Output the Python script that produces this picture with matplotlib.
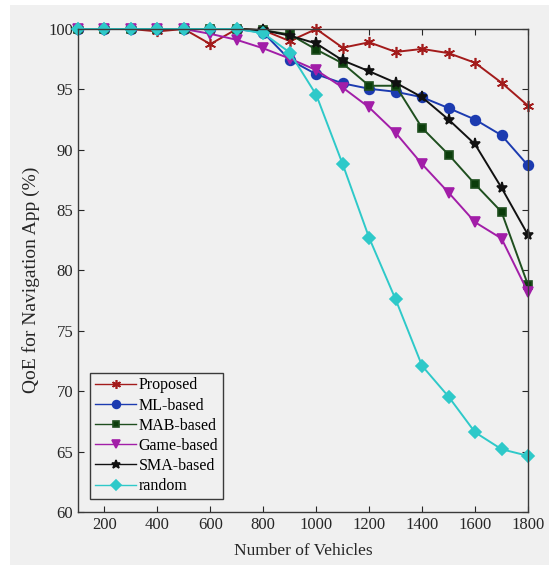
import matplotlib
matplotlib.use("Agg")
import matplotlib.pyplot as plt
from matplotlib.patches import Rectangle

plt.rcParams['font.family'] = ['Liberation Serif', 'DejaVu Serif']

vehicles = [100, 200, 300, 400, 500, 600, 700, 800, 900, 1000,
            1100, 1200, 1300, 1400, 1500, 1600, 1700, 1800]

proposed = [100, 100, 100, 99.8, 100, 98.75, 100, 99.9, 99.0, 100,
            98.45, 98.9, 98.1, 98.35, 98.0, 97.2, 95.55, 93.65]
ml_based = [100, 100, 100, 100, 100, 100, 100, 99.7, 97.45, 96.25,
            95.5, 95.05, 94.8, 94.35, 93.45, 92.5, 91.2, 88.7]
mab_based = [100, 100, 100, 100, 100, 100, 100, 99.9, 99.55, 98.3,
             97.15, 95.3, 95.3, 91.8, 89.6, 87.15, 84.85, 78.8]
game_based = [100, 100, 100, 100, 100, 99.6, 99.1, 98.4, 97.55, 96.6,
              95.15, 93.5, 91.4, 88.8, 86.45, 84.0, 82.65, 78.2]
sma_based = [100, 100, 100, 100, 100, 100, 100, 99.9, 99.45, 98.8,
             97.4, 96.5, 95.55, 94.35, 92.5, 90.45, 86.85, 82.95]
random_sel = [100, 100, 100, 100, 100, 100, 100, 99.65, 98.05, 94.55,
              88.8, 82.7, 77.6, 72.1, 69.55, 66.6, 65.2, 64.65]

# asterisk marker like MATLAB's '*'
asterisk = (6, 2, 0)

series = [
    ("Proposed", proposed, "#a31b1b", asterisk, 8),
    ("ML-based", ml_based, "#1c3bb0", "o", 7),
    ("MAB-based", mab_based, "#1f4f1f", "s", 6),
    ("Game-based", game_based, "#a21ea8", "v", 7),
    ("SMA-based", sma_based, "#111111", "*", 8),
    ("random", random_sel, "#2ec9c9", "D", 6),
]
face = {"MAB-based": "#0b3d0b"}

fig = plt.figure(figsize=(5.49, 5.65), dpi=100)
fig.patch.set_facecolor("white")
fig.patches.append(Rectangle((10 / 549, 0), 1 - 10 / 549, 1 - 5 / 565,
                             transform=fig.transFigure, facecolor="#f0f0f0",
                             edgecolor="none", zorder=-10))
ax = fig.add_axes([78 / 549, 1 - 512 / 565, 450 / 549, 483 / 565])
ax.set_facecolor("#f0f0f0")

for name, vals, col, mk, ms in series:
    ax.plot(vehicles, vals, color=col, marker=mk, markersize=ms,
            markerfacecolor=face.get(name, col), markeredgecolor=col,
            markeredgewidth=1.2, linewidth=1.4, label=name, clip_on=False)

ax.set_xlim(100, 1800)
ax.set_ylim(60, 100)
ax.set_xticks(range(200, 1801, 200))
ax.set_yticks(range(60, 101, 5))
ax.tick_params(direction="in", top=True, right=True, labelsize=12,
               colors="#262626", length=4)
for sp in ax.spines.values():
    sp.set_color("#3a3a3a")
    sp.set_linewidth(1.0)

ax.set_xlabel("Number of Vehicles", fontsize=12.5, color="#262626", labelpad=7)
ax.set_ylabel("QoE for Navigation App (%)", fontsize=14, color="#262626", labelpad=1)
ax.yaxis.set_label_coords(-0.085, 0.48)

leg = ax.legend(loc="lower left", fontsize=11.5, handlelength=2.6,
                borderpad=0.3, labelspacing=0.26, handletextpad=0.15,
                borderaxespad=0, fancybox=False, framealpha=1,
                markerscale=0.8, bbox_to_anchor=(12 / 450, 13 / 483))
leg.get_frame().set_facecolor("#f0f0f0")
leg.get_frame().set_edgecolor("#3a3a3a")
leg.get_frame().set_linewidth(1.0)
for ln in leg.get_lines():
    ln.set_linewidth(1.0)

fig.savefig("out.png", dpi=100)
